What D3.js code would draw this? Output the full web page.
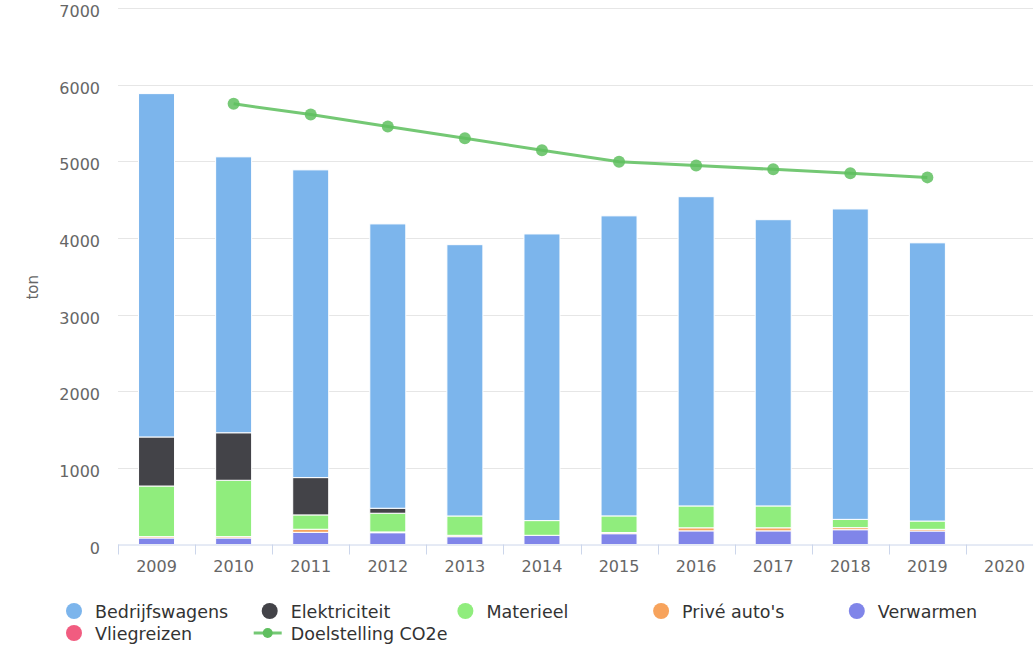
<!DOCTYPE html>
<html>
<head>
<meta charset="utf-8">
<script src="https://cdn.jsdelivr.net/npm/d3@7"></script>
<style>
  html, body { margin: 0; padding: 0; background: #ffffff; }
  svg { display: block; font-family: "DejaVu Sans", sans-serif; }
</style>
</head>
<body>
<svg id="chart" width="1033" height="648"></svg>
<script>
// ---- data ----
const years = ["2009","2010","2011","2012","2013","2014","2015","2016","2017","2018","2019","2020"];
const bedrijfswagens = [4480, 3600, 4015, 3710, 3540, 3740, 3915, 4035, 3735, 4050, 3630, null];
const elektriciteit  = [640, 620, 487, 65, 0, 0, 0, 0, 0, 0, 0, null];
const materieel      = [660, 735, 187, 244, 252, 192, 217, 285, 285, 108, 108, null];
const priveAutos     = [18, 18, 40, 10, 18, 0, 15, 40, 40, 27, 22, null];
const verwarmen      = [85, 85, 159, 154, 102, 120, 141, 178, 178, 193, 176, null];
const vliegreizen    = [0, 0, 0, 0, 0, 0, 0, 0, 0, 0, 0, null];
const doelstelling   = [null, 5750, 5610, 5455, 5300, 5145, 4995, 4945, 4895, 4845, 4790, null];
const yTicks = [0, 1000, 2000, 3000, 4000, 5000, 6000, 7000];

const barSeries = [
  { name: "Bedrijfswagens", values: bedrijfswagens, color: "#7cb5ec" },
  { name: "Elektriciteit",  values: elektriciteit,  color: "#434348" },
  { name: "Materieel",      values: materieel,      color: "#90ed7d" },
  { name: "Privé auto's",   values: priveAutos,     color: "#f7a35c" },
  { name: "Verwarmen",      values: verwarmen,      color: "#8085e9" },
  { name: "Vliegreizen",    values: vliegreizen,    color: "#f15c80" }
];
const lineSeries = { name: "Doelstelling CO2e", values: doelstelling, color: "#74c874" };

// ---- layout ----
const svg = d3.select("#chart");
const plotLeft = 118, plotRight = 1043, plotTop = 8, plotBottom = 544.5;

const x = d3.scaleBand().domain(years).range([plotLeft, plotRight]).paddingInner(0).paddingOuter(0);
const y = d3.scaleLinear().domain([0, 7000]).range([plotBottom, plotTop]);
const barW = 36;

// gridlines
svg.append("g").selectAll("line").data(yTicks.filter(d => d > 0)).join("line")
  .attr("x1", plotLeft).attr("x2", 1033)
  .attr("y1", d => Math.round(y(d)) + 0.5).attr("y2", d => Math.round(y(d)) + 0.5)
  .attr("stroke", "#e6e6e6").attr("stroke-width", 1);

// y labels
svg.append("g").selectAll("text").data(yTicks).join("text")
  .attr("x", 100).attr("y", d => y(d) + 9)
  .attr("text-anchor", "end").attr("font-size", 16).attr("fill", "#666666")
  .text(d => d);

// y title
svg.append("text")
  .attr("transform", `translate(38, ${(plotTop + plotBottom) / 2 + 11}) rotate(-90)`)
  .attr("text-anchor", "middle").attr("font-size", 15).attr("fill", "#666666")
  .text("ton");

// stacked bars (last series at bottom)
const stackOrder = barSeries.slice().reverse();
const barsG = svg.append("g");
years.forEach((yr, i) => {
  let acc = 0;
  stackOrder.forEach(s => {
    const v = s.values[i];
    if (v == null) return;
    const y0 = acc, y1 = acc + v;
    acc = y1;
    if (v <= 0) return;
    barsG.append("rect")
      .attr("x", x(yr) + (x.bandwidth() - barW) / 2)
      .attr("width", barW)
      .attr("y", y(y1))
      .attr("height", y(y0) - y(y1))
      .attr("fill", s.color)
      .attr("stroke", "#ffffff").attr("stroke-width", 1);
  });
});

// x axis
const axG = svg.append("g");
axG.append("line").attr("x1", plotLeft).attr("x2", 1033)
  .attr("y1", plotBottom + 0.5).attr("y2", plotBottom + 0.5)
  .attr("stroke", "#ccd6eb").attr("stroke-width", 1);
axG.selectAll("line.tick").data(years).join("line").attr("class", "tick")
  .attr("x1", d => Math.round(x(d)) + 0.5).attr("x2", d => Math.round(x(d)) + 0.5)
  .attr("y1", plotBottom).attr("y2", plotBottom + 10)
  .attr("stroke", "#ccd6eb").attr("stroke-width", 1);
axG.selectAll("text").data(years).join("text")
  .attr("x", d => Math.min(x(d) + x.bandwidth() / 2, 1006))
  .attr("y", 572)
  .attr("text-anchor", "middle").attr("font-size", 16).attr("fill", "#666666")
  .text(d => d);

// target line
const linePts = years.map((yr, i) => ({ yr, v: lineSeries.values[i] })).filter(d => d.v != null);
svg.append("path").datum(linePts)
  .attr("d", d3.line().x(d => x(d.yr) + x.bandwidth() / 2).y(d => y(d.v)))
  .attr("fill", "none").attr("stroke", lineSeries.color).attr("stroke-width", 3);
svg.append("g").selectAll("circle").data(linePts).join("circle")
  .attr("cx", d => x(d.yr) + x.bandwidth() / 2).attr("cy", d => y(d.v)).attr("r", 6)
  .attr("fill", "#5fbf5f").attr("opacity", 0.85);

// legend
const legendItems = barSeries.map(s => ({ name: s.name, color: s.color, type: "circle" }))
  .concat([{ name: lineSeries.name, color: lineSeries.color, type: "line" }]);
const itemW = 195.7, legX0 = 66, rowY = [611, 633];
const legG = svg.append("g");
legendItems.forEach((it, i) => {
  const col = i % 5, row = Math.floor(i / 5);
  const gx = legX0 + col * itemW, gy = rowY[row];
  const g = legG.append("g").attr("transform", `translate(${gx},${gy})`);
  if (it.type === "circle") {
    g.append("circle").attr("cx", 8).attr("cy", 0).attr("r", 8).attr("fill", it.color);
  } else {
    g.append("line").attr("x1", -8).attr("x2", 20).attr("y1", 0).attr("y2", 0)
      .attr("stroke", it.color).attr("stroke-width", 3);
    g.append("circle").attr("cx", 6).attr("cy", 0).attr("r", 5).attr("fill", "#5fbf5f");
  }
  g.append("text").attr("x", 29).attr("y", 6.5)
    .attr("font-size", 17.5).attr("fill", "#333333").text(it.name);
});
</script>
</body>
</html>
